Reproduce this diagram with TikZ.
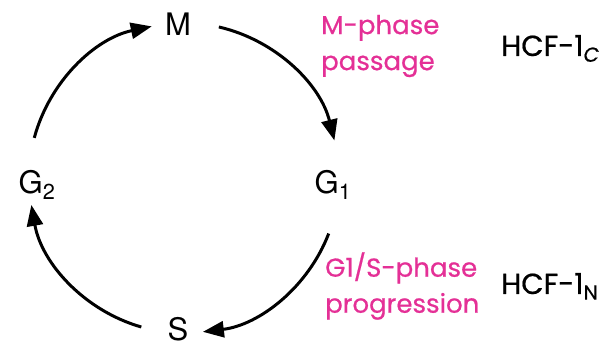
\documentclass[tikz,border=0pt]{standalone}
\usepackage{fontspec}
\setmainfont{TeX Gyre Heros}
\newfontfamily\notefont[FakeBold=0.6]{Poppins}
\usetikzlibrary{arrows.meta}
\definecolor{phasepink}{RGB}{228,48,150}
\begin{document}
\begin{tikzpicture}[x=1pt,y=-1pt,
  cyc/.style={line width=3pt,-{Triangle[length=21pt,width=16pt]}},
  phase/.style={font=\fontsize{31}{31}\selectfont},
  note/.style={font=\notefont\fontsize{26}{36}\selectfont,text=phasepink,align=left,anchor=west,inner sep=0pt},
  hcf/.style={font=\notefont\fontsize{29}{29}\selectfont,anchor=base west,inner sep=0pt}]
\useasboundingbox (0,0) rectangle (603,347);
\coordinate (c) at (184,178);
% phase labels
\node[phase] (M) at (178,24) {M};
\node[phase] (G1) at (333,185) {G\textsubscript{1}};
\node[phase] (S) at (178,329) {S};
\node[phase] (G2) at (37,185) {G\textsubscript{2}};
% cycle arrows (angles measured with y pointing down)
\draw[cyc] (c) ++(-77:155) arc[start angle=-77, end angle=-14, radius=155];
\draw[cyc] (c) ++(21:155) arc[start angle=21, end angle=83, radius=155];
\draw[cyc] (c) ++(106:155) arc[start angle=106, end angle=170, radius=155];
\draw[cyc] (c) ++(195:155) arc[start angle=195, end angle=258, radius=155];
% annotations
\node[note] (mp) at (321,46) {M-phase\\passage};
\node[hcf] (hc) at (501,56) {HCF-1\textsubscript{\itshape C}};
\node[note] (gs) at (325,286) {G1/S-phase\\progression};
\node[hcf] (hn) at (501,294) {HCF-1\textsubscript{N}};
\end{tikzpicture}
\end{document}
